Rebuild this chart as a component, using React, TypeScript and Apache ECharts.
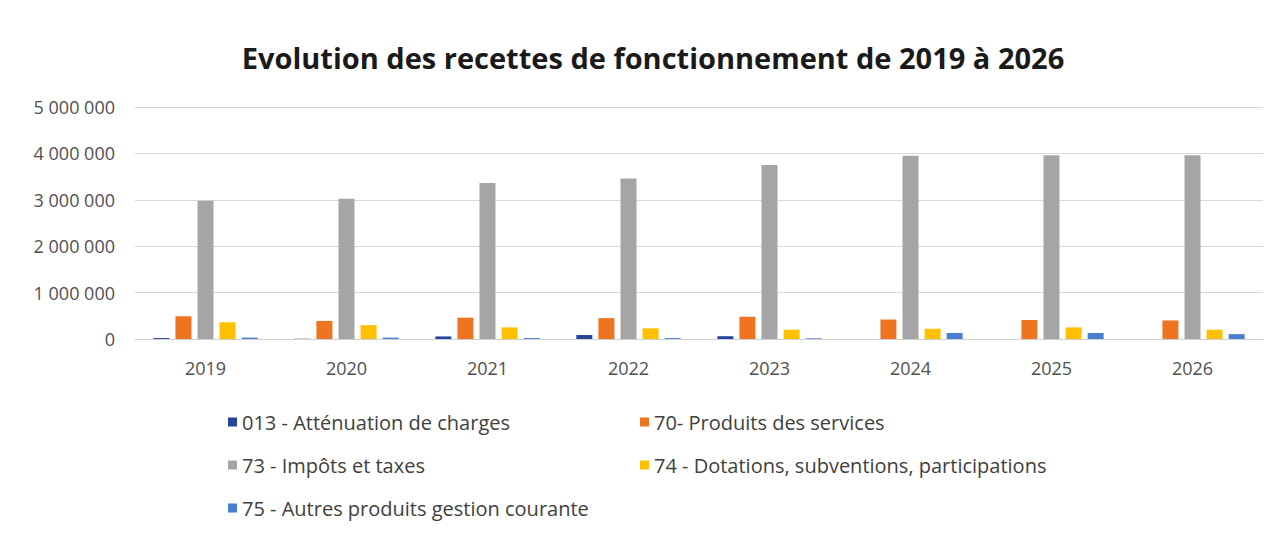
import React, { useEffect, useRef } from "react";
import * as echarts from "echarts";

const years = ["2019", "2020", "2021", "2022", "2023", "2024", "2025", "2026"];
const seriesNames = [
  "013 - Atténuation de charges",
  "70- Produits des services",
  "73 - Impôts et taxes",
  "74 - Dotations, subventions, participations",
  "75 - Autres produits gestion courante",
];
const attenuation = [20000, 5000, 55000, 85000, 60000, 0, 0, 0];
const produitsServices = [490000, 390000, 460000, 450000, 480000, 420000, 410000, 400000];
const impots = [2980000, 3020000, 3360000, 3460000, 3750000, 3950000, 3960000, 3960000];
const dotations = [360000, 300000, 250000, 230000, 200000, 220000, 250000, 200000];
const autresProduits = [30000, 30000, 20000, 20000, 15000, 130000, 130000, 105000];
const colors = ["#24439A", "#EF7422", "#A5A5A5", "#FFC000", "#4A7FD0"];
const yTicks = [0, 1000000, 2000000, 3000000, 4000000, 5000000];

const fmt = (v: number) => String(v).replace(/\B(?=(\d{3})+(?!\d))/g, " ");

export default function App() {
  const ref = useRef<HTMLDivElement>(null);
  useEffect(() => {
    if (!ref.current) return;
    const chart = echarts.init(ref.current, null, { renderer: "svg" });
    const values = [attenuation, produitsServices, impots, dotations, autresProduits];
    const font = "Open Sans, Noto Sans, sans-serif";
    const legendText = { fontFamily: font, fontSize: 20, color: "#404040", lineHeight: 24 };
    const legendPos = [
      [220, 402],
      [632, 402],
      [220, 445],
      [632, 445],
      [220, 488],
    ];
    chart.setOption({
      animation: false,
      backgroundColor: "#ffffff",
      title: {
        text: "Evolution des recettes de fonctionnement de 2019 à 2026",
        left: 640,
        textAlign: "center",
        top: 30,
        textStyle: { fontFamily: font, fontWeight: "bold", fontSize: 29, color: "#1a1a1a" },
      },
      grid: { left: 127, right: 5, top: 99, bottom: 189, containLabel: false },
      legend: seriesNames.map((name, i) => ({
        orient: "horizontal",
        left: legendPos[i][0],
        top: legendPos[i][1],
        padding: 0,
        itemWidth: 9,
        itemHeight: 9,
        itemGap: 0,
        icon: "rect",
        textStyle: legendText,
        data: [name],
      })),
      xAxis: {
        type: "category",
        data: years,
        axisLine: { lineStyle: { color: "#D0D0D0" } },
        axisTick: { show: false },
        axisLabel: { fontFamily: font, fontSize: 18, color: "#505050", margin: 20 },
      },
      yAxis: {
        type: "value",
        min: 0,
        max: yTicks[yTicks.length - 1],
        interval: yTicks[1] - yTicks[0],
        axisLine: { show: false },
        axisTick: { show: false },
        splitLine: { lineStyle: { color: "#D9D9D9" } },
        axisLabel: {
          fontFamily: font,
          fontSize: 18,
          color: "#505050",
          margin: 20,
          formatter: (v: number) => fmt(v),
        },
      },
      series: seriesNames.map((name, i) => ({
        name,
        type: "bar",
        data: values[i],
        barWidth: 16,
        barGap: "38%",
        itemStyle: { color: colors[i] },
      })),
    });
    return () => chart.dispose();
  }, []);
  return <div ref={ref} style={{ width: 1260, height: 520 }} />;
}
